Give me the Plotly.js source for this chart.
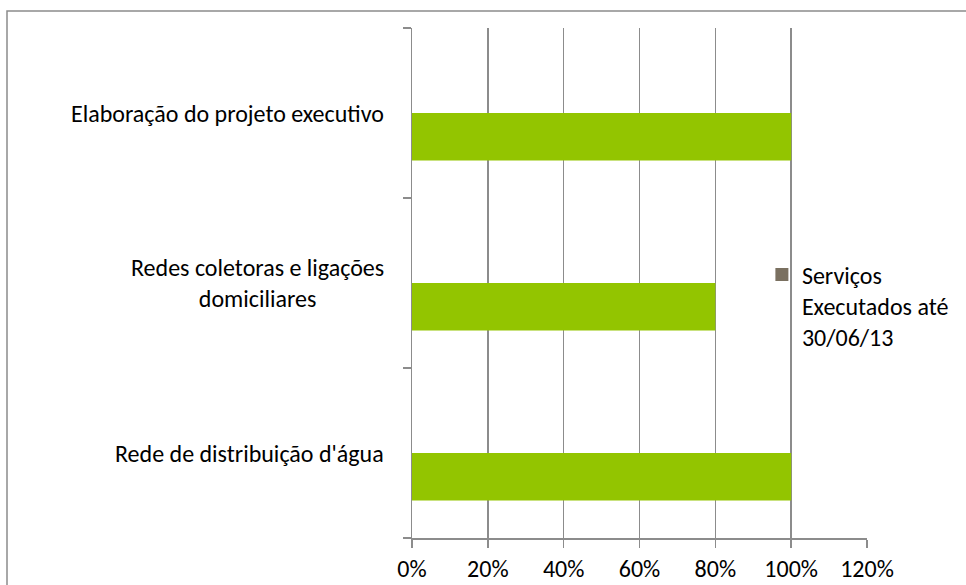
<!DOCTYPE html>
<html>
<head>
<meta charset="utf-8">
<script src="https://cdn.plot.ly/plotly-3.0.1.min.js"></script>
<style>html,body{margin:0;padding:0;background:#fff;overflow:hidden}</style>
</head>
<body>
<div id="chart" style="width:966px;height:585px"></div>
<script>
const categories = ["Rede de distribuição d'água", "Redes coletoras e ligações<br>domiciliares", "Elaboração do projeto executivo"];
const values = [1.0, 0.8, 1.0];
const tickValues = [0, 0.2, 0.4, 0.6, 0.8, 1.0, 1.2];
const tickLabels = ["0%", "20%", "40%", "60%", "80%", "100%", "120%"];
const seriesName = "Serviços<br>Executados até<br>30/06/13";

const FONT = "Carlito, Lato, 'Open Sans', sans-serif";
const FS = 24;
const GRID = "#8c8c8c";

const traces = [
  {
    type: "bar", orientation: "h",
    y: categories, x: values,
    width: 0.28, offset: -0.28,
    marker: {color: "#93c500"},
    showlegend: false, hoverinfo: "skip"
  },
  {
    type: "scatter", mode: "markers",
    x: [null], y: [null],
    name: seriesName,
    marker: {symbol: "square", size: 13, color: "#7a7060"},
    showlegend: true
  }
];

const annotations = categories.map(c => ({
  xref: "paper", yref: "y", x: 0, y: c,
  xanchor: "right", yanchor: "middle", xshift: -26,
  text: c, showarrow: false, align: "center",
  font: {family: FONT, size: FS, color: "#000"}
}));

const layout = {
  width: 966, height: 585,
  margin: {l: 412, r: 99, t: 28, b: 47, autoexpand: false},
  paper_bgcolor: "#fff", plot_bgcolor: "#fff",
  font: {family: FONT, size: FS, color: "#000"},
  xaxis: {
    range: [0, 1.2], tickvals: tickValues, ticktext: tickLabels,
    showgrid: true, gridcolor: GRID, gridwidth: 1.5,
    zeroline: false, showline: true, linecolor: GRID, linewidth: 1.5,
    ticks: "outside", ticklen: 8, tickcolor: GRID, tickwidth: 1.5,
    ticklabelstandoff: 1, automargin: false,
    tickfont: {family: FONT, size: FS, color: "#000"}, fixedrange: true
  },
  yaxis: {
    type: "category", categoryorder: "array", categoryarray: categories,
    range: [-0.5, 2.5], showticklabels: false, automargin: false,
    showgrid: false, zeroline: false, showline: true, linecolor: GRID, linewidth: 1.5,
    ticks: "outside", tickson: "boundaries", ticklen: 8, tickcolor: GRID, tickwidth: 1.5,
    fixedrange: true
  },
  legend: {
    x: 0.769, y: 0.56, xanchor: "left", yanchor: "top",
    bgcolor: "rgba(0,0,0,0)", valign: "top", tracegroupgap: 0,
    font: {family: FONT, size: FS, color: "#000"}
  },
  annotations: annotations,
  shapes: [{
    type: "rect", xref: "paper", yref: "paper",
    x0: (7 - 412) / 455, x1: (1000 - 412) / 455,
    y0: (538 - 600) / 510, y1: (538 - 11) / 510,
    line: {color: "#8c8c8c", width: 1.5}, fillcolor: "rgba(0,0,0,0)", layer: "below"
  }],
  showlegend: true
};

Plotly.newPlot("chart", traces, layout, {displayModeBar: false, staticPlot: true});
</script>
</body>
</html>
